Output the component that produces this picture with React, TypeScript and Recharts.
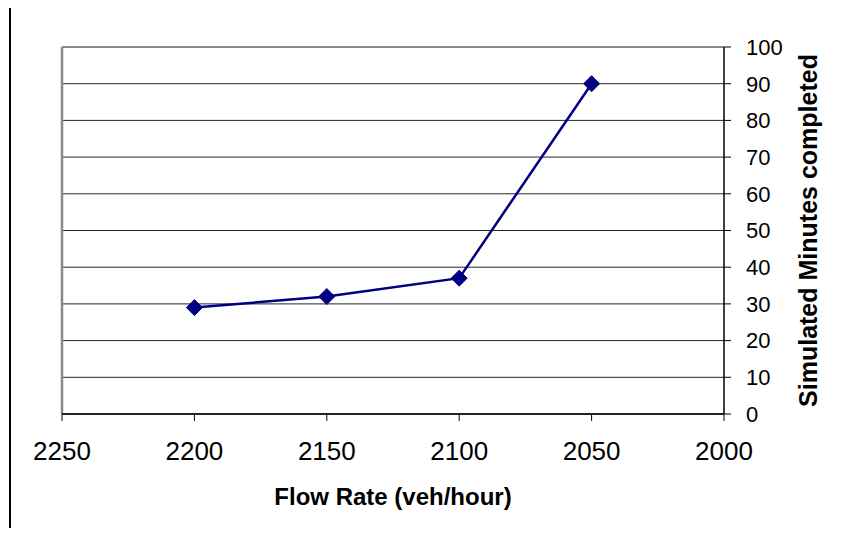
import { LineChart, Line, XAxis, YAxis, CartesianGrid, ReferenceLine, Customized } from "recharts";

const flowRates = [2200, 2150, 2100, 2050];
const minutesCompleted = [29, 32, 37, 90];
const xTicks = [2250, 2200, 2150, 2100, 2050, 2000];
const yTicks = [0, 10, 20, 30, 40, 50, 60, 70, 80, 90, 100];

const data = flowRates.map((flow, i) => ({ flow, minutes: minutesCompleted[i] }));

const FONT = "'Liberation Sans', Arial, sans-serif";

const Diamond = (props: any) => {
    const { cx, cy } = props;
    if (cx == null || cy == null) return null;
    const r = 8;
    return (
        <polygon
            points={`${cx},${cy - r} ${cx + r},${cy} ${cx},${cy + r} ${cx - r},${cy}`}
            fill="#000080"
            stroke="#000080"
        />
    );
};

// outer chart frame: only the top and left edges show in the picture
const Frame = () => (
    <g>
        <line x1={9} y1={6} x2={844} y2={6} stroke="#000" strokeWidth={2} />
        <line x1={10} y1={5} x2={10} y2={536} stroke="#000" strokeWidth={2} />
    </g>
);

export default function App() {
    // negative margins cancel the body margin so the page is exactly 844x536 (no scrolling)
    return (
        <div style={{ margin: "-8px 0 -8px -8px", width: 844, height: 536, overflow: "hidden", background: "#fff" }}>
            <LineChart
                width={844}
                height={536}
                data={data}
                margin={{ top: 47, right: 40, left: 62, bottom: 62 }}
            >
                <CartesianGrid vertical={false} stroke="#000" strokeOpacity={0.85} />
                <XAxis
                    dataKey="flow" type="number" domain={[2000, 2250]} reversed
                    ticks={xTicks} interval={0} height={60}
                    axisLine={{ stroke: "#000", strokeWidth: 1.5 }}
                    tickLine={{ stroke: "#000" }} tickSize={7}
                    tick={{ fill: "#000", fontSize: 26, fontFamily: FONT, dy: 19 }}
                    label={{
                        value: "Flow Rate (veh/hour)", position: "insideBottom", offset: -31,
                        style: { fill: "#000", fontSize: 24, fontWeight: 700, fontFamily: FONT },
                    }}
                />
                <YAxis
                    orientation="right" type="number" domain={[0, 100]} ticks={yTicks}
                    interval={0} width={80}
                    axisLine={{ stroke: "#000", strokeWidth: 1.5 }}
                    tickLine={{ stroke: "#000" }} tickSize={7}
                    tick={{ fill: "#000", fontSize: 22, fontFamily: FONT, dx: 13 }}
                    label={{
                        value: "Simulated Minutes completed", angle: -90, position: "right", offset: 4,
                        style: { fill: "#000", fontSize: 25, fontWeight: 700, fontFamily: FONT, textAnchor: "middle" },
                    }}
                />
                <ReferenceLine x={2250} stroke="#888" strokeWidth={2.5} />
                <ReferenceLine y={100} stroke="#888" strokeWidth={2} />
                <Line
                    type="linear" dataKey="minutes"
                    stroke="#000080" strokeWidth={2.5}
                    dot={<Diamond />} activeDot={false}
                    isAnimationActive={false}
                />
                <Customized component={Frame} />
            </LineChart>
        </div>
    );
}
